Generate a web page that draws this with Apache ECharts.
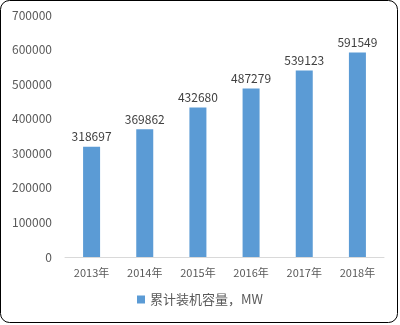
<!DOCTYPE html>
<html><head><meta charset="utf-8">
<script src="https://cdn.jsdelivr.net/npm/echarts@6/dist/echarts.min.js"></script>
<style>html,body{margin:0;padding:0;background:#fff}#c{width:400px;height:325px}</style>
</head><body><div id="c"></div>
<script>
const categories = ['2013年','2014年','2015年','2016年','2017年','2018年'];
const values = [318697, 369862, 432680, 487279, 539123, 591549];
const seriesName = '累计装机容量，MW';
const font = '"Microsoft YaHei","Noto Sans CJK SC","DejaVu Sans",sans-serif';
const chart = echarts.init(document.getElementById('c'));
chart.setOption({
  animation: false,
  textStyle: {fontFamily: font},
  graphic: [{type:'rect', shape:{x:0.5,y:0.5,width:397,height:322,r:9}, style:{fill:'none',stroke:'#000',lineWidth:1}}],
  grid: {left: 65, right: 16, top: 15, bottom: 68},
  legend: {bottom: 14, left: 'center', itemWidth: 8, itemHeight: 8, icon: 'rect', itemGap: 5,
    textStyle: {color: '#595959', fontSize: 13, fontFamily: font}},
  xAxis: {type: 'category', data: categories,
    axisLine: {lineStyle: {color: '#d9d9d9'}}, axisTick: {show: false},
    axisLabel: {color: '#595959', fontSize: 11, margin: 10}},
  yAxis: {type: 'value', min: 0, max: 700000, interval: 100000,
    axisLine: {show: false}, axisTick: {show: false}, splitLine: {show: false},
    axisLabel: {color: '#595959', fontSize: 12, margin: 13, formatter: v => String(v)}},
  series: [{name: seriesName, type: 'bar', data: values, barWidth: 17,
    itemStyle: {color: '#5b9bd5'},
    label: {show: true, position: 'top', color: '#404040', fontSize: 12, distance: 4}}]
});
</script></body></html>
